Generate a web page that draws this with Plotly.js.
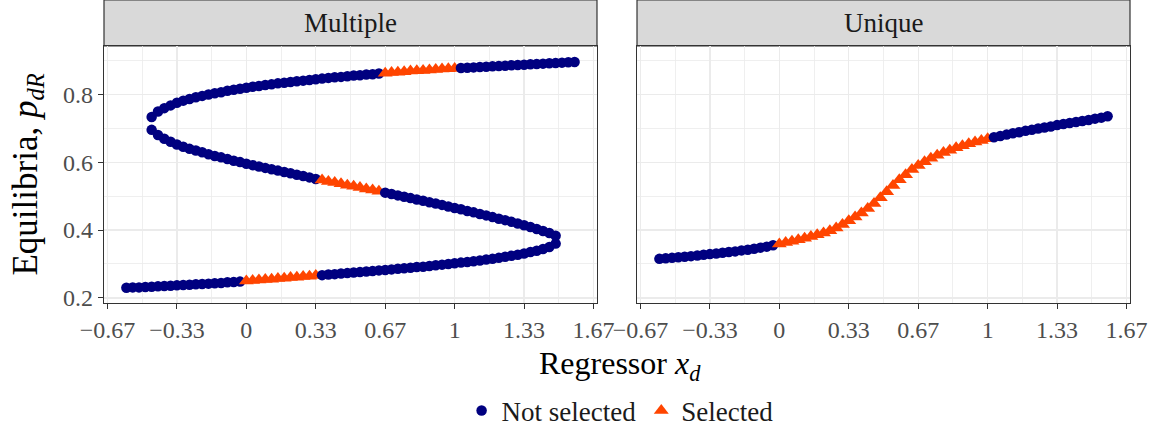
<!DOCTYPE html>
<html>
<head>
<meta charset="utf-8">
<script src="https://cdn.plot.ly/plotly-3.0.1.min.js"></script>
<style>
  html, body { margin: 0; padding: 0; background: #ffffff; }
  #chart { width: 1157px; height: 430px; }
</style>
</head>
<body>
<div id="chart"></div>
<script>
// ---------------- data ----------------
const panels = ["Multiple", "Unique"];
const seriesNames = ["Not selected", "Selected"];

// regressor grid x_d (k/33, k = -19 .. 52)
const xGrid = [-0.5758, -0.5455, -0.5152, -0.4848, -0.4545, -0.4242, -0.3939, -0.3636, -0.3333, -0.3030,
  -0.2727, -0.2424, -0.2121, -0.1818, -0.1515, -0.1212, -0.0909, -0.0606, -0.0303, 0,
  0.0303, 0.0606, 0.0909, 0.1212, 0.1515, 0.1818, 0.2121, 0.2424, 0.2727, 0.3030,
  0.3333, 0.3636, 0.3939, 0.4242, 0.4545, 0.4848, 0.5152, 0.5455, 0.5758, 0.6061,
  0.6364, 0.6667, 0.6970, 0.7273, 0.7576, 0.7879, 0.8182, 0.8485, 0.8788, 0.9091,
  0.9394, 0.9697, 1.0000, 1.0303, 1.0606, 1.0909, 1.1212, 1.1515, 1.1818, 1.2121,
  1.2424, 1.2727, 1.3030, 1.3333, 1.3636, 1.3939, 1.4242, 1.4545, 1.4848, 1.5152,
  1.5455, 1.5758];

// Multiple: lower branch (x from -0.5758 to 1.4848)
const xLower = xGrid.slice(0, 69);
const pLower = [0.230, 0.231, 0.231, 0.232, 0.233, 0.234, 0.235, 0.236, 0.237, 0.238,
  0.239, 0.240, 0.241, 0.242, 0.243, 0.244, 0.246, 0.247, 0.248, 0.250,
  0.251, 0.253, 0.254, 0.255, 0.257, 0.258, 0.260, 0.261, 0.263, 0.264,
  0.266, 0.267, 0.269, 0.270, 0.272, 0.273, 0.275, 0.276, 0.278, 0.279,
  0.281, 0.282, 0.284, 0.286, 0.287, 0.289, 0.291, 0.292, 0.294, 0.296,
  0.298, 0.300, 0.302, 0.304, 0.306, 0.308, 0.310, 0.313, 0.315, 0.318,
  0.321, 0.324, 0.327, 0.331, 0.335, 0.339, 0.344, 0.350, 0.360];

// Multiple: middle branch (x from -0.4545 to 1.4848)
const xMiddle = xGrid.slice(4, 69);
const pMiddle = [0.695, 0.680, 0.669, 0.660, 0.652, 0.645, 0.639, 0.634, 0.629, 0.623,
  0.618, 0.614, 0.609, 0.604, 0.600, 0.595, 0.591, 0.587, 0.583, 0.579,
  0.575, 0.571, 0.567, 0.563, 0.559, 0.555, 0.550, 0.547, 0.543, 0.540,
  0.536, 0.532, 0.529, 0.525, 0.521, 0.518, 0.514, 0.510, 0.506, 0.502,
  0.498, 0.494, 0.490, 0.486, 0.482, 0.478, 0.474, 0.469, 0.465, 0.461,
  0.456, 0.452, 0.447, 0.443, 0.438, 0.433, 0.429, 0.424, 0.419, 0.414,
  0.409, 0.403, 0.397, 0.391, 0.383];

// Multiple: upper branch (x from -0.4545 to 1.5758)
const xUpper = xGrid.slice(4, 72);
const pUpper = [0.733, 0.749, 0.759, 0.767, 0.775, 0.781, 0.786, 0.791, 0.795, 0.799,
  0.803, 0.806, 0.810, 0.813, 0.816, 0.819, 0.822, 0.824, 0.827, 0.829,
  0.832, 0.834, 0.836, 0.838, 0.840, 0.842, 0.844, 0.846, 0.848, 0.850,
  0.851, 0.853, 0.855, 0.856, 0.858, 0.859, 0.861, 0.862, 0.864, 0.865,
  0.866, 0.868, 0.869, 0.870, 0.871, 0.873, 0.874, 0.875, 0.876, 0.877,
  0.878, 0.879, 0.880, 0.881, 0.882, 0.883, 0.884, 0.885, 0.886, 0.887,
  0.888, 0.889, 0.890, 0.891, 0.892, 0.893, 0.894, 0.895];

// Unique
const xUnique = xGrid.slice(0, 72);
const pUnique = [0.315, 0.317, 0.318, 0.320, 0.321, 0.323, 0.325, 0.327, 0.329, 0.331,
  0.333, 0.335, 0.337, 0.340, 0.342, 0.345, 0.348, 0.351, 0.355, 0.359,
  0.363, 0.367, 0.371, 0.376, 0.381, 0.386, 0.391, 0.398, 0.406, 0.416,
  0.427, 0.438, 0.450, 0.463, 0.478, 0.495, 0.513, 0.531, 0.548, 0.563,
  0.578, 0.590, 0.601, 0.611, 0.620, 0.628, 0.635, 0.642, 0.648, 0.654,
  0.659, 0.664, 0.669, 0.673, 0.677, 0.681, 0.685, 0.688, 0.692, 0.695,
  0.699, 0.702, 0.705, 0.709, 0.712, 0.715, 0.718, 0.721, 0.724, 0.728,
  0.731, 0.735];

// selected ranges of x_d on each branch [from, to]
const selLower = [0, 0.3333];
const selMiddle = [0.3636, 0.6364];
const selUpper = [0.6667, 1.0];
const selUnique = [0, 1.0];

const xTickVals = [-0.6667, -0.3333, 0, 0.3333, 0.6667, 1, 1.3333, 1.6667];
const xTickText = ["\u22120.67", "\u22120.33", "0", "0.33", "0.67", "1", "1.33", "1.67"];
const xMinorVals = [-0.5, -0.1667, 0.1667, 0.5, 0.8333, 1.1667, 1.5];
const yTickVals = [0.2, 0.4, 0.6, 0.8];
const yTickText = ["0.2", "0.4", "0.6", "0.8"];
const yMinorVals = [0.3, 0.5, 0.7, 0.9];

// ---------------- styling ----------------
const BLUE = "#000080";
const ORANGE = "#ff4500";
const FONT = "'Liberation Serif', 'Times New Roman', serif";
const eps = 1e-3;

let shownBlue = false, shownOrange = false;
const traces = [];
function addBranch(xs, ys, sel, xa, ya) {
  const seg = [[[], []], [[], []], [[], []]];
  xs.forEach((x, i) => {
    const s = x < sel[0] - eps ? 0 : (x > sel[1] + eps ? 2 : 1);
    seg[s][0].push(x); seg[s][1].push(ys[i]);
  });
  seg.forEach((sg, j) => {
    if (!sg[0].length) return;
    const isSel = j === 1;
    const show = isSel ? !shownOrange : !shownBlue;
    if (isSel) shownOrange = true; else shownBlue = true;
    traces.push({
      type: "scatter", mode: "markers", x: sg[0], y: sg[1],
      xaxis: xa, yaxis: ya,
      name: isSel ? seriesNames[1] : seriesNames[0],
      legendgroup: isSel ? "sel" : "not",
      showlegend: show,
      marker: isSel ? {symbol: "triangle-up", size: 13, color: ORANGE, line: {width: 0}}
                    : {symbol: "circle", size: 10.5, color: BLUE, line: {width: 0}},
      hoverinfo: "x+y"
    });
  });
}
addBranch(xLower, pLower, selLower, "x", "y");
addBranch(xMiddle, pMiddle, selMiddle, "x", "y");
addBranch(xUpper, pUpper, selUpper, "x", "y");
addBranch(xUnique, pUnique, selUnique, "x2", "y2");

const gridMajor = "#ebebeb";
function xAxis(domain, anchor) {
  return {
    domain: domain, anchor: anchor, range: [-0.6833, 1.6833],
    tickmode: "array", tickvals: xTickVals, ticktext: xTickText,
    ticks: "outside", ticklen: 5, tickwidth: 1, tickcolor: "#333333",
    tickfont: {family: FONT, size: 24, color: "#4d4d4d"},
    showgrid: true, gridcolor: gridMajor, gridwidth: 1.2,
    minor: {tickmode: "array", tickvals: xMinorVals, showgrid: true, gridcolor: gridMajor, gridwidth: 0.8, ticks: ""},
    zeroline: false, showline: true, mirror: true, linecolor: "#333333", linewidth: 1.2,
    fixedrange: true, automargin: false
  };
}
function yAxis(anchor, labels) {
  return {
    anchor: anchor, domain: [0, 1], range: [0.185, 0.942],
    tickmode: "array", tickvals: yTickVals, ticktext: yTickText,
    ticks: labels ? "outside" : "", ticklen: 5, tickwidth: 1, tickcolor: "#333333",
    showticklabels: labels,
    tickfont: {family: FONT, size: 24, color: "#4d4d4d"},
    showgrid: true, gridcolor: gridMajor, gridwidth: 1.2,
    minor: {tickmode: "array", tickvals: yMinorVals, showgrid: true, gridcolor: gridMajor, gridwidth: 0.8, ticks: ""},
    zeroline: false, showline: true, mirror: true, linecolor: "#333333", linewidth: 1.2,
    fixedrange: true, automargin: false
  };
}

const stripTop = 1 + 46 / 257;
const dom1 = [0, 0.4805], dom2 = [0.5195, 1];
const layout = {
  width: 1157, height: 430,
  margin: {l: 104, r: 27, t: 46, b: 127, pad: 0, autoexpand: false},
  paper_bgcolor: "#ffffff", plot_bgcolor: "#ffffff",
  font: {family: FONT, color: "#1a1a1a"},
  xaxis: xAxis(dom1, "y"),
  xaxis2: xAxis(dom2, "y2"),
  yaxis: yAxis("x", true),
  yaxis2: Object.assign(yAxis("x2", false), {matches: "y"}),
  showlegend: true,
  legend: {
    orientation: "h", x: 0.503, xanchor: "center", y: -0.42, yanchor: "middle",
    font: {family: FONT, size: 27, color: "#1a1a1a"},
    bgcolor: "rgba(0,0,0,0)", itemwidth: 30, tracegroupgap: 0
  },
  shapes: [
    {type: "rect", xref: "paper", yref: "paper", x0: dom1[0], x1: dom1[1], y0: 1, y1: stripTop,
     fillcolor: "#d9d9d9", line: {color: "#333333", width: 1.2}, layer: "below"},
    {type: "rect", xref: "paper", yref: "paper", x0: dom2[0], x1: dom2[1], y0: 1, y1: stripTop,
     fillcolor: "#d9d9d9", line: {color: "#333333", width: 1.2}, layer: "below"}
  ],
  annotations: [
    {text: panels[0], xref: "paper", yref: "paper", x: (dom1[0] + dom1[1]) / 2, y: 1 + 23 / 257,
     xanchor: "center", yanchor: "middle", showarrow: false, font: {family: FONT, size: 27, color: "#1a1a1a"}},
    {text: panels[1], xref: "paper", yref: "paper", x: (dom2[0] + dom2[1]) / 2, y: 1 + 23 / 257,
     xanchor: "center", yanchor: "middle", showarrow: false, font: {family: FONT, size: 27, color: "#1a1a1a"}},
    {text: "Regressor <i>x</i><sub><i>d</i></sub>", xref: "paper", yref: "paper", x: 0.503, y: -0.245,
     xanchor: "center", yanchor: "middle", showarrow: false, font: {family: FONT, size: 32, color: "#000000"}},
    {text: "Equilibria, <i>p</i><sub><i>dR</i></sub>", xref: "paper", yref: "paper", x: -0.075, y: 0.5,
     xanchor: "center", yanchor: "middle", textangle: -90, showarrow: false, font: {family: FONT, size: 35, color: "#000000"}}
  ]
};

Plotly.newPlot("chart", traces, layout, {staticPlot: true, displayModeBar: false});
</script>
</body>
</html>
